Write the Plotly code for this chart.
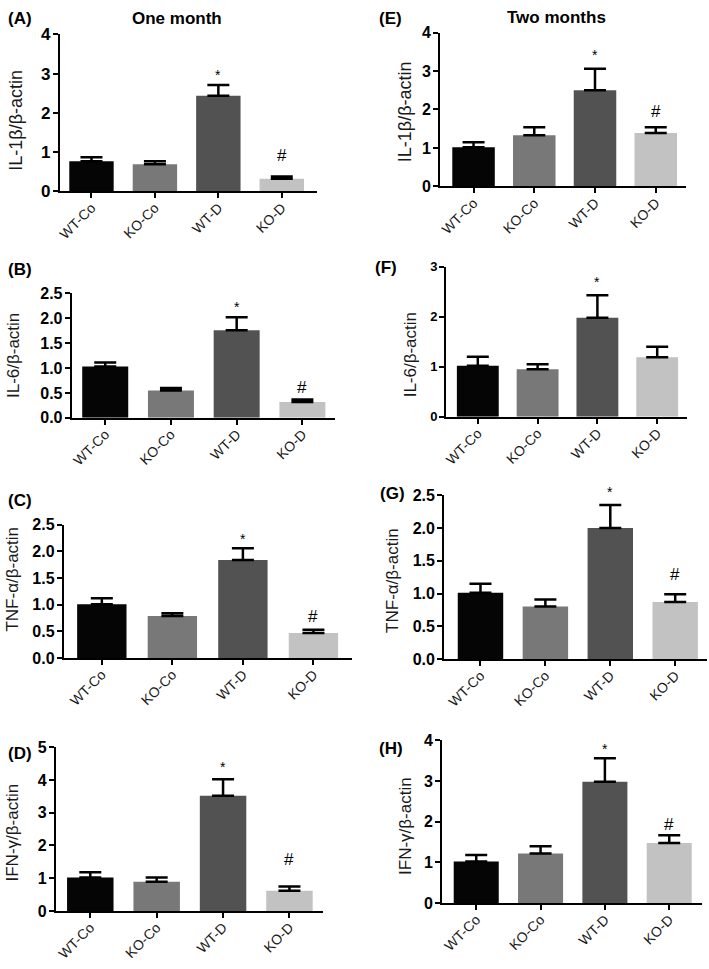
import plotly.graph_objects as go

categories = ["WT-Co", "KO-Co", "WT-D", "KO-D"]
bar_colors = ["#050505", "#787878", "#525252", "#c2c2c2"]

# One month
il1b_1m = [0.77, 0.69, 2.44, 0.32]
il1b_1m_err = [0.10, 0.08, 0.27, 0.06]
il6_1m = [1.03, 0.55, 1.76, 0.32]
il6_1m_err = [0.08, 0.05, 0.26, 0.05]
tnf_1m = [1.01, 0.79, 1.84, 0.47]
tnf_1m_err = [0.11, 0.05, 0.22, 0.06]
ifn_1m = [1.02, 0.89, 3.52, 0.62]
ifn_1m_err = [0.16, 0.13, 0.50, 0.13]

# Two months
il1b_2m = [1.02, 1.33, 2.50, 1.39]
il1b_2m_err = [0.13, 0.21, 0.56, 0.15]
il6_2m = [1.02, 0.95, 1.98, 1.19]
il6_2m_err = [0.18, 0.10, 0.45, 0.21]
tnf_2m = [1.01, 0.80, 2.00, 0.87]
tnf_2m_err = [0.14, 0.11, 0.35, 0.12]
ifn_2m = [1.02, 1.22, 2.98, 1.48]
ifn_2m_err = [0.16, 0.18, 0.58, 0.19]

W, H = 709, 969
FONT = "Liberation Sans, Arial, sans-serif"

panels = [
    dict(label="(A)", v=il1b_1m, e=il1b_1m_err, yt="IL-1β/β-actin", ymax=4, dt=1, fmt="d",
         box=(57, 315, 26, 186), xr=(-0.50, 3.55), lab=(3, 10), tpos=(13, 113), ts=17, tts=18,
         marks=[("*", 2, 10), ("#", 3, 21)]),
    dict(label="(B)", v=il6_1m, e=il6_1m_err, yt="IL-6/β-actin", ymax=2.5, dt=0.5, fmt=".1f",
         box=(69, 333, 290, 417), xr=(-0.51, 3.49), lab=(3, 266), tpos=(10, 353), ts=16, tts=17,
         marks=[("*", 2, 10), ("#", 3, 12)]),
    dict(label="(C)", v=tnf_1m, e=tnf_1m_err, yt="TNF-α/β-actin", ymax=2.5, dt=0.5, fmt=".1f",
         box=(61, 350, 526, 662), xr=(-0.54, 3.54), lab=(3, 501), tpos=(10, 581), ts=16, tts=17,
         marks=[("*", 2, 9), ("#", 3, 13)]),
    dict(label="(D)", v=ifn_1m, e=ifn_1m_err, yt="IFN-γ/β-actin", ymax=5, dt=1, fmt="d",
         box=(53, 321, 753, 920), xr=(-0.52, 3.50), lab=(3, 759), tpos=(10, 840), ts=16, tts=17,
         marks=[("*", 2, 12), ("#", 3, 27)]),
    dict(label="(E)", v=il1b_2m, e=il1b_2m_err, yt="IL-1β/β-actin", ymax=4, dt=1, fmt="d",
         box=(439, 686, 24, 181), xr=(-0.55, 3.50), lab=(376, 10), tpos=(404, 105), ts=16, tts=18,
         marks=[("*", 2, 14), ("#", 3, 16)]),
    dict(label="(F)", v=il6_2m, e=il6_2m_err, yt="IL-6/β-actin", ymax=3, dt=1, fmt="d",
         box=(445, 687, 263, 416), xr=(-0.53, 3.50), lab=(372, 264), tpos=(409, 353), ts=13, tts=17,
         marks=[("*", 2, 13)]),
    dict(label="(G)", v=tnf_2m, e=tnf_2m_err, yt="TNF-α/β-actin", ymax=2.5, dt=0.5, fmt=".1f",
         box=(443, 707, 496, 663), xr=(-0.56, 3.49), lab=(377, 494), tpos=(391, 583), ts=16, tts=17,
         marks=[("*", 2, 13), ("#", 3, 20)]),
    dict(label="(H)", v=ifn_2m, e=ifn_2m_err, yt="IFN-γ/β-actin", ymax=4, dt=1, fmt="d",
         box=(441, 702, 746, 912), xr=(-0.53, 3.51), lab=(376, 754), tpos=(404, 833), ts=16, tts=17,
         marks=[("*", 2, 9), ("#", 3, 11)]),
]

fig = go.Figure()
annotations = []
layout = {}

for i, p in enumerate(panels):
    n = i + 1
    xa = "x" if n == 1 else f"x{n}"
    ya = "y" if n == 1 else f"y{n}"
    x0, x1, yt0, yb0 = p["box"]
    fig.add_trace(go.Bar(
        x=list(range(len(categories))), y=p["v"], xaxis=xa, yaxis=ya,
        marker=dict(color=bar_colors, line=dict(width=0)), width=0.7,
        error_y=dict(type="data", symmetric=False, array=p["e"], arrayminus=[0] * len(p["e"]),
                     color="black", thickness=2.5, width=11),
        showlegend=False, hoverinfo="skip",
    ))
    axis_common = dict(showline=True, linecolor="black", linewidth=2, showgrid=False,
                       zeroline=False, ticks="outside", ticklen=5, tickwidth=2, tickcolor="black")
    layout["xaxis" if n == 1 else f"xaxis{n}"] = dict(
        domain=[x0 / W, x1 / W], anchor=ya, range=list(p["xr"]),
        tickmode="array", tickvals=list(range(len(categories))), ticktext=categories,
        tickangle=-45, ticklabelstandoff=-4,
        tickfont=dict(family=FONT, size=14, color="#1a1a1a"), **axis_common)
    layout["yaxis" if n == 1 else f"yaxis{n}"] = dict(
        domain=[1 - yb0 / H, 1 - yt0 / H], anchor=xa, range=[0, p["ymax"]],
        tickmode="linear", tick0=0, dtick=p["dt"], tickformat=p["fmt"], ticklabelstandoff=-1,
        tickfont=dict(family=FONT, size=p["ts"], color="black", weight="bold"), **axis_common)
    # panel letter
    annotations.append(dict(text=f"<b>{p['label']}</b>", xref="paper", yref="paper",
                            x=p["lab"][0] / W, y=1 - p["lab"][1] / H, xanchor="left", yanchor="middle",
                            showarrow=False, font=dict(family=FONT, size=17, color="black")))
    # y title
    annotations.append(dict(text=p["yt"], xref="paper", yref="paper", textangle=-90,
                            x=p["tpos"][0] / W, y=1 - p["tpos"][1] / H, xanchor="center", yanchor="middle",
                            showarrow=False, font=dict(family=FONT, size=p["tts"], color="#1a1a1a")))
    # significance marks
    for sym, idx, off in p["marks"]:
        annotations.append(dict(text=sym, xref=xa, yref=ya, x=idx, y=p["v"][idx] + p["e"][idx],
                                yanchor="middle", xanchor="center", yshift=off, showarrow=False,
                                font=dict(family=FONT, size=17 if sym == "#" else 14, color="black")))

annotations.append(dict(text="<b>One month</b>", xref="paper", yref="paper", x=175 / W, y=1 - 10 / H,
                        xanchor="center", yanchor="middle", showarrow=False,
                        font=dict(family=FONT, size=17, color="black")))
annotations.append(dict(text="<b>Two months</b>", xref="paper", yref="paper", x=556 / W, y=1 - 9 / H,
                        xanchor="center", yanchor="middle", showarrow=False,
                        font=dict(family=FONT, size=17, color="black")))

fig.update_layout(width=W, height=H, margin=dict(l=0, r=0, t=0, b=0),
                  paper_bgcolor="white", plot_bgcolor="white", bargap=0.3,
                  annotations=annotations, **layout)

fig.write_html("out.html", config={"displayModeBar": False},
               post_script="document.body.style.margin='0';document.body.style.padding='0';")
